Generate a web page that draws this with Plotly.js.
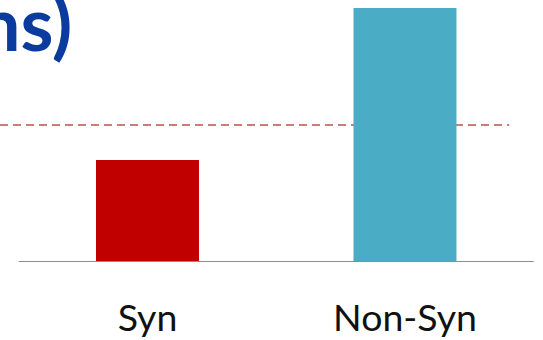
<!DOCTYPE html>
<html>
<head>
<meta charset="utf-8">
<script src="https://cdn.plot.ly/plotly-3.0.1.min.js"></script>
<style>html,body{margin:0;padding:0;background:#fff;}#chart{width:543px;height:340px;}</style>
</head>
<body>
<div id="chart"></div>
<script>
// Data (arbitrary units, axis 0..100)
var categories = ["Syn", "Non-Syn"];
var values = [38.9, 96.9];
var barColors = ["#C00000", "#4BACC6"];
var thresholdValue = 52.3;
var titleText = "(mutations)";

var trace = {
  type: "bar",
  x: [0, 1],
  y: values,
  width: 0.4,
  marker: {color: barColors, line: {width: 0}},
  hoverinfo: "skip"
};

var layout = {
  width: 543,
  height: 340,
  margin: {l: 0, r: 0, t: 0, b: 78},
  paper_bgcolor: "#ffffff",
  plot_bgcolor: "#ffffff",
  showlegend: false,
  xaxis: {
    range: [-0.5728, 1.536],
    tickmode: "array",
    tickvals: [0, 1],
    ticktext: categories,
    showgrid: false,
    zeroline: false,
    showline: false,
    ticks: "",
    ticklabelstandoff: 30,
    tickfont: {family: "Lato, 'Open Sans', sans-serif", size: 37.5, color: "#111111"},
    fixedrange: true
  },
  yaxis: {
    range: [0, 100],
    showgrid: false,
    zeroline: false,
    showline: false,
    showticklabels: false,
    ticks: "",
    fixedrange: true
  },
  shapes: [
    {type: "line", xref: "x", yref: "y", x0: -0.5728, x1: 1.405, y0: thresholdValue, y1: thresholdValue,
     line: {color: "#C0504D", width: 1.6, dash: "8px,5px"}, layer: "below"},
    {type: "line", xref: "x", yref: "y", x0: -0.5, x1: 1.5, y0: 0, y1: 0,
     line: {color: "#8C8C8C", width: 2}, layer: "above"}
  ],
  annotations: [
    {text: titleText, xref: "paper", yref: "paper", x: 74/543, y: 1.095, xanchor: "right", yanchor: "top",
     showarrow: false, font: {family: "Lato, 'Open Sans', sans-serif", size: 75, color: "#0B3B9E", weight: 700}}
  ]
};

Plotly.newPlot("chart", [trace], layout, {displayModeBar: false, staticPlot: true});
</script>
</body>
</html>
